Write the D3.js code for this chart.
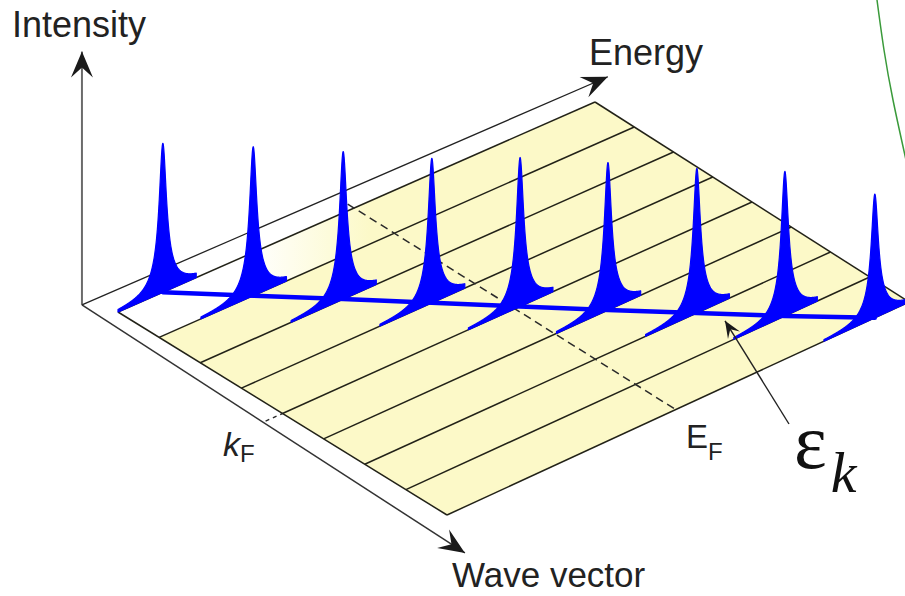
<!DOCTYPE html>
<html>
<head>
<meta charset="utf-8">
<script src="https://cdn.jsdelivr.net/npm/d3@7"></script>
<style>
  body { margin: 0; background: #fff; }
  svg { display: block; }
</style>
</head>
<body>
<div id="chart"></div>
<script>
// constant wave-vector lines drawn on the plane (fraction of k range)
var kGrid = [0, 0.125, 0.25, 0.375, 0.5, 0.625, 0.75, 0.875, 1];

// one energy distribution curve per k line
var peakK = [0, 0.125, 0.25, 0.375, 0.5, 0.625, 0.75, 0.875, 1];
var peakE = [0.094, 0.198, 0.302, 0.404, 0.506, 0.608, 0.713, 0.817, 0.926];
var peakHeight = [1.00, 1.00, 0.99, 0.97, 1.00, 0.99, 0.97, 0.97, 0.83];
var peakWidth = [0.009, 0.009, 0.009, 0.009, 0.009, 0.009, 0.009, 0.009, 0.009];
// broad foot under each sharp peak: share of height and width
var footShare = 0.13, footWidth = 0.026;

// Fermi level / Fermi wave vector
var fermiE = 0.495, fermiK = 0.5;

var axisLabels = ["Intensity", "Energy", "Wave vector"];

var width = 905, height = 596;

var svg = d3.select("#chart")
  .append("svg")
    .attr("width", width)
    .attr("height", height);

var defs = svg.append("defs");

// plane corners on screen: (e,k) = (0,0), (1,0), (0,1), (1,1)
var plane = {o: [118, 312], e: [595, 102], k: [447, 515], ek: [909, 302]};
var yI = d3.scaleLinear().domain([0, 1]).range([0, 149]);

function proj(e, k, i) {
  var a = d3.interpolateArray(plane.o, plane.k)(k),
      b = d3.interpolateArray(plane.e, plane.ek)(k),
      p = d3.interpolateArray(a, b)(e);
  return [p[0], p[1] - yI(i || 0)];
}

function arrowMarker(id, len, half, notch) {
  defs.append("marker")
    .attr("id", id)
    .attr("markerUnits", "userSpaceOnUse")
    .attr("viewBox", [-len - 1, -half - 1, len + 2, 2 * half + 2].join(" "))
    .attr("markerWidth", len + 2)
    .attr("markerHeight", 2 * half + 2)
    .attr("refX", 0)
    .attr("refY", 0)
    .attr("orient", "auto")
    .append("path")
      .attr("d", "M0,0L" + (-len) + "," + (-half) + "L" + (-notch) + ",0L" + (-len) + "," + half + "Z")
      .attr("fill", "#1a1a1a");
}
arrowMarker("arrow", 26, 11, 16);
arrowMarker("arrowSmall", 17, 7, 10);

var fade = defs.append("linearGradient")
  .attr("id", "fade")
  .attr("gradientUnits", "userSpaceOnUse")
  .attr("x1", 250).attr("y1", 0).attr("x2", 370).attr("y2", 0);
fade.append("stop").attr("offset", 0).attr("stop-color", "#ffffff");
fade.append("stop").attr("offset", 1).attr("stop-color", "#fcf9c8");

var line = d3.line();

// plane
svg.append("path")
  .attr("d", line([proj(0, 0), proj(1, 0), proj(1, 1), proj(0, 1)]) + "Z")
  .attr("fill", "#fcf9c8");
svg.append("path")
  .attr("d", line([proj(0, 0), proj(1, 0), proj(1, kGrid[1]), proj(0, kGrid[1])]) + "Z")
  .attr("fill", "url(#fade)");

// grid lines of constant k and the two side edges
svg.selectAll(".kline")
  .data(kGrid)
  .enter()
  .append("path")
    .attr("class", "kline")
    .attr("d", function(k) { return line([proj(0, k), proj(1, k)]); })
    .attr("stroke", "#222218")
    .attr("stroke-width", 1.5)
    .attr("fill", "none");
svg.selectAll(".edge")
  .data([0, 1])
  .enter()
  .append("path")
    .attr("class", "edge")
    .attr("d", function(e) { return line([proj(e, 0), proj(e, 1)]); })
    .attr("stroke", "#222218")
    .attr("stroke-width", 1.5)
    .attr("fill", "none");

// E_F and k_F dashed lines
svg.append("path")
  .attr("d", line([proj(fermiE, -0.02), proj(fermiE, 1)]))
  .attr("stroke", "#2a2a2a")
  .attr("stroke-width", 1.5)
  .attr("stroke-dasharray", "8,5")
  .attr("fill", "none");
svg.append("path")
  .attr("d", line([proj(-0.036, fermiK), proj(0, fermiK)]))
  .attr("stroke", "#2a2a2a")
  .attr("stroke-width", 1.4)
  .attr("stroke-dasharray", "4,4")
  .attr("fill", "none");

// axes
var origin = proj(-0.03, -0.066);
svg.append("path")
  .attr("d", line([origin, proj(-0.03, -0.066, 1.70)]))
  .attr("stroke", "#6b6b6b")
  .attr("stroke-width", 2)
  .attr("marker-end", "url(#arrow)");
svg.append("path")
  .attr("d", line([origin, proj(1.065, -0.058)]))
  .attr("stroke", "#222")
  .attr("stroke-width", 1.3)
  .attr("marker-end", "url(#arrow)");
svg.append("path")
  .attr("d", line([origin, proj(-0.054, 1.13)]))
  .attr("stroke", "#333")
  .attr("stroke-width", 1.5)
  .attr("marker-end", "url(#arrow)");

// dispersion  e(k)
svg.append("path")
  .attr("d", line(peakE.map(function(e, i) { return proj(e, peakK[i]); })))
  .attr("stroke", "#0000ff")
  .attr("stroke-width", 4.5)
  .attr("stroke-linecap", "round")
  .attr("fill", "none");

// peaks (Lorentzian EDCs standing on each k line)
function lor(d, g) { return g * g / (d * d + g * g); }
var steps = d3.range(-0.11, 0.0701, 0.0005);
svg.selectAll(".peak")
  .data(peakE)
  .enter()
  .append("path")
    .attr("class", "peak")
    .attr("d", function(e0, i) {
      var k = peakK[i];
      var es = steps.map(function(d) { return e0 + d; })
        .filter(function(e) { return e >= 0 && e <= 1; });
      var top = es.map(function(e) {
        var I = (1 - footShare) * lor(e - e0, peakWidth[i]) + footShare * lor(e - e0, footWidth);
        return proj(e, k, peakHeight[i] * I);
      });
      var base = es.slice().reverse().map(function(e) { return proj(e, k); });
      return line(top.concat(base)) + "Z";
    })
    .attr("fill", "#0000ff")
    .attr("stroke", "#0000ff")
    .attr("stroke-width", 1.2)
    .attr("stroke-linejoin", "round");

// arrow pointing at the dispersion
svg.append("path")
  .attr("d", line([[789, 424], proj(0.7325, 0.81)]))
  .attr("stroke", "#222")
  .attr("stroke-width", 1.4)
  .attr("marker-end", "url(#arrowSmall)");

// side curve cut off at the right edge
var sideCurve = [[877, 0], [884, 50], [893, 100], [906, 160]];
svg.append("path")
  .attr("d", d3.line().curve(d3.curveNatural)(sideCurve))
  .attr("stroke", "#3a9a3a")
  .attr("stroke-width", 1.5)
  .attr("fill", "none");

// labels
var sans = "'Liberation Sans', Arial, Helvetica, sans-serif";
var serif = "'Liberation Serif', 'Times New Roman', serif";

svg.append("text")
  .attr("x", 12).attr("y", 37)
  .style("font-family", sans).style("font-size", "36px").style("fill", "#222")
  .text(axisLabels[0]);
svg.append("text")
  .attr("x", 589).attr("y", 65)
  .style("font-family", sans).style("font-size", "36px").style("fill", "#222")
  .text(axisLabels[1]);
svg.append("text")
  .attr("x", 452).attr("y", 587)
  .style("font-family", sans).style("font-size", "35px").style("fill", "#222")
  .text(axisLabels[2]);

var ef = svg.append("text")
  .attr("x", 686).attr("y", 448)
  .style("font-family", sans).style("font-size", "33px").style("fill", "#222");
ef.append("tspan").text("E");
ef.append("tspan").attr("dy", 12).style("font-size", "24px").text("F");

var kf = svg.append("text")
  .attr("x", 223).attr("y", 456)
  .style("font-family", sans).style("font-size", "34px").style("fill", "#222");
kf.append("tspan").style("font-style", "italic").text("k");
kf.append("tspan").attr("dy", 6).style("font-size", "24px").text("F");

var ek = svg.append("text")
  .attr("x", 794).attr("y", 468)
  .style("font-family", serif).style("fill", "#111");
ek.append("tspan").style("font-size", "78px").text("ε");
ek.append("tspan").attr("dx", 4).attr("dy", 24).style("font-size", "58px").style("font-style", "italic").text("k");
</script>
</body>
</html>
